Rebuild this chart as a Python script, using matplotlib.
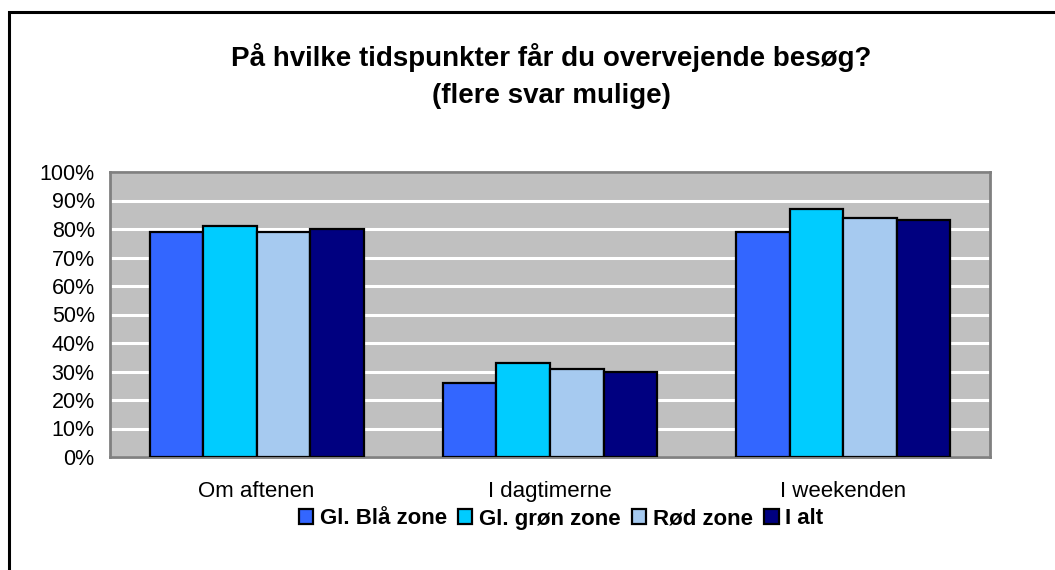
import numpy as np
import matplotlib
matplotlib.use("Agg")
import matplotlib.pyplot as plt
from matplotlib.patches import Rectangle

plt.rcParams["font.family"] = ["Liberation Sans", "DejaVu Sans"]

categories = ["Om aftenen", "I dagtimerne", "I weekenden"]
series = ["Gl. Blå zone", "Gl. grøn zone", "Rød zone", "I alt"]
values = {
    "Gl. Blå zone": [79, 26, 79],
    "Gl. grøn zone": [81, 33, 87],
    "Rød zone": [79, 31, 84],
    "I alt": [80, 30, 83],
}
colors = ["#3366FF", "#00CCFF", "#A6CAF0", "#000080"]
yticks = np.arange(0, 101, 10)

W, H = 1055, 570
fig = plt.figure(figsize=(W / 100, H / 100), dpi=100)
ax = fig.add_axes([110 / W, 1 - 457 / H, 880 / W, 285 / H])

# outer chart frame (runs off the right and bottom edges)
fig.patches.append(Rectangle((8.5 / W, -0.1), 1.2, 1 - 12.5 / H + 0.1,
                             transform=fig.transFigure, fill=False,
                             edgecolor="black", lw=2.2))

x = np.arange(len(categories))
bw = 0.1825
for i, (s, c) in enumerate(zip(series, colors)):
    ax.bar(x + (i - 1.5) * bw, values[s], bw, color=c, edgecolor="black",
           lw=1.6, label=s, zorder=3)

ax.set_facecolor("#C0C0C0")
ax.set_xlim(-0.5, 2.5)
ax.set_ylim(0, 100)
ax.set_yticks(yticks)
ax.set_yticklabels([f"{v}%" for v in yticks], fontsize=15.5)
ax.set_xticks(x)
ax.set_xticklabels(categories, fontsize=16)
ax.tick_params(axis="both", length=0)
ax.tick_params(axis="y", pad=11)
ax.tick_params(axis="x", pad=17)
ax.grid(axis="y", color="white", lw=2.2, zorder=1)
for sp in ax.spines.values():
    sp.set_color("#808080")
    sp.set_linewidth(2)

fig.text(551 / W, 1 - 58 / H, "På hvilke tidspunkter får du overvejende besøg?",
         ha="center", va="center", fontsize=20, fontweight="bold")
fig.text(551 / W, 1 - 96 / H, "(flere svar mulige)",
         ha="center", va="center", fontsize=20, fontweight="bold")

fig.legend(loc="center", bbox_to_anchor=(561 / W, 1 - 519 / H), ncol=4,
           frameon=False, prop={"weight": "bold", "size": 16},
           handlelength=0.65, handleheight=0.65, handletextpad=0.3,
           columnspacing=0.5)

fig.savefig("out.png", dpi=100)
